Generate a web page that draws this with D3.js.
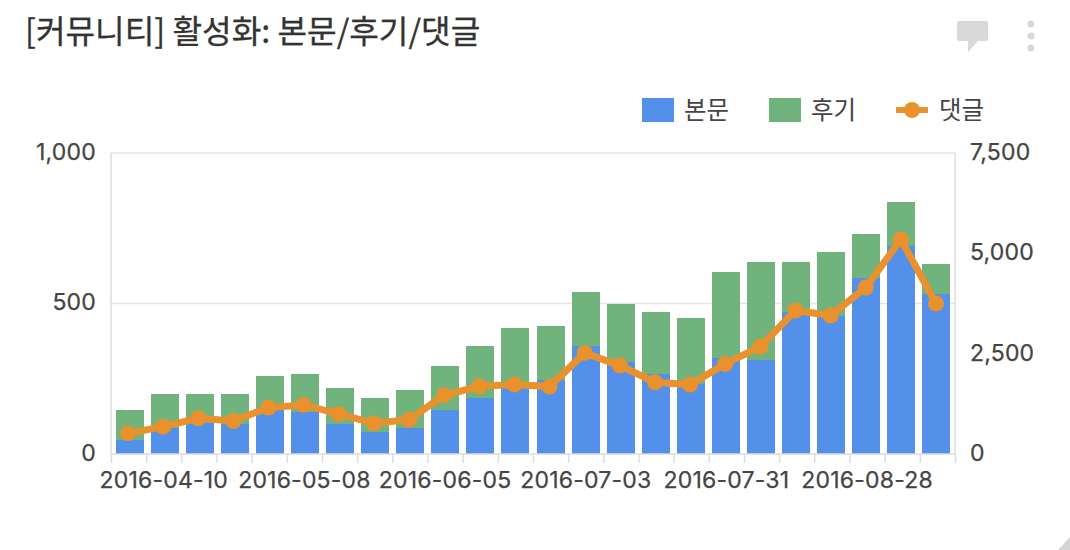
<!DOCTYPE html>
<html>
<head>
<meta charset="utf-8">
<script src="https://cdn.jsdelivr.net/npm/d3@7"></script>
<style>
  html, body { margin: 0; padding: 0; background: #fff; }
  svg { display: block; }
  text { font-family: "Inter", "Noto Sans CJK KR", sans-serif; fill: #444; }
  .kr { font-family: "Noto Sans CJK KR", sans-serif; }
  .tick text { font-size: 23px; letter-spacing: 0.2px; font-family: "Inter", sans-serif; stroke: #444; stroke-width: 0.25px; }
</style>
</head>
<body>
<svg id="chart" width="1070" height="550"></svg>
<script>
//chart data
var weeks = ["2016-04-03", "2016-04-10", "2016-04-17", "2016-04-24", "2016-05-01", "2016-05-08",
  "2016-05-15", "2016-05-22", "2016-05-29", "2016-06-05", "2016-06-12", "2016-06-19",
  "2016-06-26", "2016-07-03", "2016-07-10", "2016-07-17", "2016-07-24", "2016-07-31",
  "2016-08-07", "2016-08-14", "2016-08-21", "2016-08-28", "2016-09-04", "2016-09-11"];
var weekLabels = ["2016-04-10", "2016-05-08", "2016-06-05", "2016-07-03", "2016-07-31", "2016-08-28"];
var posts = [47, 88, 104, 101, 149, 140, 101, 73, 86, 146, 186, 218, 246, 359, 306, 266, 233, 319, 313, 472, 459, 585, 692, 532];
var reviews = [99, 112, 96, 99, 110, 126, 119, 113, 127, 147, 173, 201, 180, 180, 193, 206, 219, 286, 326, 167, 213, 147, 146, 100];
var comments = [515, 682, 890, 823, 1156, 1222, 998, 765, 856, 1463, 1688, 1729, 1680, 2519, 2203, 1788, 1729, 2245, 2677, 3575, 3451, 4149, 5346, 3750];
var leftTicks = [0, 500, 1000];
var rightTicks = [0, 2500, 5000, 7500];

var title = "[커뮤니티] 활성화: 본문/후기/댓글";
var seriesNames = ["본문", "후기", "댓글"];
var colors = ["#5290e9", "#71b37c", "#e8912d"];

var svg = d3.select("#chart");

var plotLeft = 111, plotRight = 955, plotTop = 153, plotBottom = 454;

//bars sit slightly inside the frame, the line a bit further left
var xBar = d3.scaleBand().domain(weeks).range([112.5, 953.5]).paddingInner(0.2).paddingOuter(0.1);
var xLine = d3.scalePoint().domain(weeks).range([128, 936]);
var xLabel = d3.scaleBand().domain(weeks).range([plotLeft, plotRight]);
var xTick = d3.scaleLinear().domain([0, weeks.length]).range([plotLeft, plotRight]);
var yLeft = d3.scaleLinear().domain([0, 1000]).range([plotBottom, plotTop]);
var yRight = d3.scaleLinear().domain([0, 7500]).range([plotBottom, plotTop]);

//title
svg.append("text").attr("class", "kr")
    .attr("x", 25).attr("y", 43)
    .style("font-size", "32.2px")
    .style("fill", "#333")
    .style("stroke", "#333")
    .style("stroke-width", "0.3px")
    .text(title);

//icons top right
svg.append("path")
    .attr("d", "M959 21H986Q988 21 988 23V39Q988 41 986 41H978L968 52V41H959Q957 41 957 39V23Q957 21 959 21Z")
    .attr("fill", "#d9d9d9");
svg.selectAll(".dot").data([24, 36, 48]).enter().append("circle")
    .attr("class", "dot")
    .attr("cx", 1031).attr("cy", function (d) { return d; })
    .attr("r", 3.5)
    .attr("fill", "#d9d9d9");

//corner handle
svg.append("path").attr("d", "M1070 537V550H1058Z").attr("fill", "#d4d4d4");

//frame and gridlines
var gridColor = "#e4e4e4";
var grid = svg.append("g").attr("class", "grid");
grid.selectAll("line").data(leftTicks.slice(1)).enter().append("line")
    .attr("x1", plotLeft).attr("x2", plotRight)
    .attr("y1", function (d) { return yLeft(d); })
    .attr("y2", function (d) { return yLeft(d); })
    .attr("stroke", gridColor).attr("stroke-width", 1.5);
grid.selectAll(".side").data([plotLeft, plotRight]).enter().append("line")
    .attr("class", "side")
    .attr("x1", function (d) { return d; }).attr("x2", function (d) { return d; })
    .attr("y1", plotTop).attr("y2", plotBottom)
    .attr("stroke", "#dcdcdc").attr("stroke-width", 1.5);

//stacked bars
var barsData = weeks.map(function (w, i) {
    return { week: w, posts: posts[i], reviews: reviews[i] };
});
var stacked = d3.stack().keys(["posts", "reviews"])(barsData);
svg.selectAll(".layer").data(stacked).enter().append("g")
    .attr("class", "layer")
    .attr("fill", function (d, i) { return colors[i]; })
    .attr("shape-rendering", "crispEdges")
    .selectAll("rect")
    .data(function (d) { return d; }).enter().append("rect")
    .attr("x", function (d) { return xBar(d.data.week); })
    .attr("width", xBar.bandwidth())
    .attr("y", function (d) { return yLeft(d[1]); })
    .attr("height", function (d) { return yLeft(d[0]) - yLeft(d[1]); });

//x axis, ticks on the band edges and labels in the band centre
var tickAxis = svg.append("g").attr("transform", "translate(0," + plotBottom + ")")
    .call(d3.axisBottom(xTick).tickValues(d3.range(weeks.length + 1)).tickSize(9).tickFormat(""));
tickAxis.selectAll("line").attr("stroke", "#dcdcdc").attr("stroke-width", 1.5);
tickAxis.select(".domain").attr("stroke", "#dcdcdc").attr("stroke-width", 1.5).attr("d", "M" + plotLeft + ",0H" + plotRight);

var labelAxis = svg.append("g").attr("transform", "translate(0," + plotBottom + ")")
    .call(d3.axisBottom(xLabel).tickValues(weekLabels).tickSize(0).tickPadding(18));
labelAxis.select(".domain").remove();

//y axes, labels sit a little above their gridline
var leftAxis = svg.append("g").attr("transform", "translate(" + plotLeft + ",-1)")
    .call(d3.axisLeft(yLeft).tickValues(leftTicks).tickSize(0).tickPadding(15).tickFormat(d3.format(",")));
leftAxis.select(".domain").remove();

var rightAxis = svg.append("g").attr("transform", "translate(" + plotRight + ",-1)")
    .call(d3.axisRight(yRight).tickValues(rightTicks).tickSize(0).tickPadding(15).tickFormat(d3.format(",")));
rightAxis.select(".domain").remove();

//comments line
var line = d3.line()
    .x(function (d, i) { return xLine(weeks[i]); })
    .y(function (d) { return yRight(d); });
svg.append("path").datum(comments)
    .attr("d", line)
    .attr("fill", "none")
    .attr("stroke", colors[2])
    .attr("stroke-width", 7);
svg.selectAll(".point").data(comments).enter().append("circle")
    .attr("class", "point")
    .attr("cx", function (d, i) { return xLine(weeks[i]); })
    .attr("cy", function (d) { return yRight(d); })
    .attr("r", 8)
    .attr("fill", colors[2]);

//legend
var legendX = [642, 769, 896];
var legend = svg.selectAll(".legend").data(seriesNames).enter().append("g")
    .attr("class", "legend")
    .attr("transform", function (d, i) { return "translate(" + legendX[i] + ",98)"; });
legend.each(function (d, i) {
    var g = d3.select(this);
    if (i < 2) {
        g.append("rect").attr("width", 32).attr("height", 24).attr("fill", colors[i]);
    } else {
        g.append("rect").attr("y", 9).attr("width", 32).attr("height", 6).attr("fill", colors[i]);
        g.append("circle").attr("cx", 16).attr("cy", 12).attr("r", 8).attr("fill", colors[i]);
    }
    g.append("text").attr("class", "kr")
        .attr("x", i < 2 ? 42 : 43).attr("y", 21)
        .style("font-size", "24.5px")
        .text(d);
});
</script>
</body>
</html>
